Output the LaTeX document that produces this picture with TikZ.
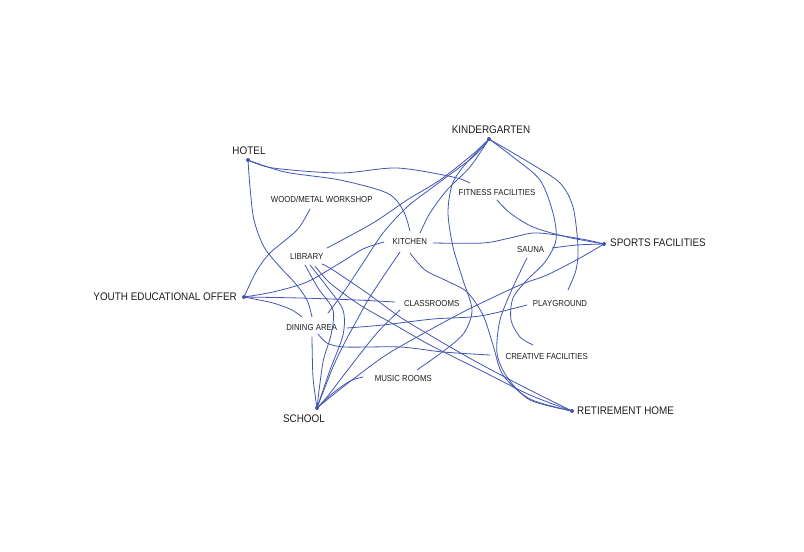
\documentclass[tikz,border=0pt]{standalone}
\usepackage{fontspec}
\newfontfamily\labfont{Liberation Sans}[FakeStretch=0.9]
\definecolor{lineblue}{HTML}{4355B3}
\definecolor{labtext}{HTML}{1E1E1E}
\tikzset{
  edge/.style={draw=lineblue, line width=0.8pt, line cap=round},
  hub/.style={font=\labfont\fontsize{11}{13}\selectfont, text=labtext, inner sep=0pt},
  item/.style={font=\labfont\fontsize{8.7}{10}\selectfont, text=labtext, inner sep=0pt},
  hubdot/.style={fill=lineblue}
}
\begin{document}
\begin{tikzpicture}[x=1pt,y=-1pt]
\useasboundingbox (0,0) rectangle (804,552);
% hub centres
\coordinate (H) at (248,160);
\coordinate (K) at (489,139);
\coordinate (S) at (604,244);
\coordinate (Y) at (244,297);
\coordinate (C) at (317,408);
\coordinate (R) at (572,411);
% hub labels
\node[hub] (hotel) at (249,150.5) {HOTEL};
\node[hub] (kinder) at (491,130) {KINDERGARTEN};
\node[hub,anchor=west] (sports) at (610,242.5) {SPORTS FACILITIES};
\node[hub,anchor=east] (youth) at (237,296.3) {YOUTH EDUCATIONAL OFFER};
\node[hub] (school) at (304,418.7) {SCHOOL};
\node[hub,anchor=west] (retire) at (577,410.8) {RETIREMENT HOME};
% item labels
\node[item] (workshop) at (321.7,199.3) {WOOD/METAL WORKSHOP};
\node[item] (library) at (306.7,256.7) {LIBRARY};
\node[item] (kitchen) at (409.8,241.7) {KITCHEN};
\node[item] (fitness) at (497,192.7) {FITNESS FACILITIES};
\node[item] (sauna) at (530.7,250) {SAUNA};
\node[item] (classrooms) at (431.7,303.3) {CLASSROOMS};
\node[item] (playground) at (560,303.3) {PLAYGROUND};
\node[item] (dining) at (311.7,327.7) {DINING AREA};
\node[item] (creative) at (546.7,356.7) {CREATIVE FACILITIES};
\node[item] (music) at (403.3,378.3) {MUSIC ROOMS};
% connector ends
\coordinate (fitA) at (470,183);
\coordinate (fitB) at (497,200);
\coordinate (kitA) at (410,231);
\coordinate (kitB) at (384,242);
\coordinate (kitC) at (420,233);
\coordinate (kitD) at (433,243);
\coordinate (kitE) at (410,253);
\coordinate (kitF) at (400,252);
\coordinate (wsA) at (310,209);
\coordinate (libA) at (327,248);
\coordinate (libB) at (305,265);
\coordinate (libC) at (310,265);
\coordinate (libD) at (315,266);
\coordinate (libE) at (322,264);
\coordinate (dinA) at (312,317);
\coordinate (dinB) at (302,317);
\coordinate (dinC) at (328,313);
\coordinate (dinD) at (312,337);
\coordinate (dinE) at (318,334);
\coordinate (dinF) at (347,328);
\coordinate (claA) at (395,302);
\coordinate (claB) at (400,310);
\coordinate (musA) at (417,370);
\coordinate (musB) at (363,377);
\coordinate (creA) at (533,345);
\coordinate (creB) at (490,355);
\coordinate (plaA) at (568,290);
\coordinate (plaB) at (527,305);
\coordinate (sauA) at (552,248);
\coordinate (sauB) at (527,258);
% hotel
\draw[edge] plot[smooth] coordinates {(H) (273,168) (340,173) (397,168) (453,177) (fitA)};
\draw[edge] plot[smooth] coordinates {(H) (285,172) (340,180) (387,193) (403,210) (kitA)};
\draw[edge] plot[smooth] coordinates {(H) (250,187) (254,220) (264,247) (280,267) (295,283) (307,300) (dinA)};
% youth
\draw[edge] plot[smooth] coordinates {(wsA) (297,230) (270,253) (256,272) (Y)};
\draw[edge] plot[smooth] coordinates {(Y) (273,292) (307,282) (340,263) (363,249) (kitB)};
\draw[edge] plot[smooth] coordinates {(Y) (300,298) (357,300) (claA)};
\draw[edge] plot[smooth] coordinates {(Y) (273,303) (292,310) (dinB)};
% kindergarten
\draw[edge] plot[smooth] coordinates {(K) (473,154) (440,180) (407,200) (373,223) (libA)};
\draw[edge] plot[smooth] coordinates {(K) (473,157) (433,187) (407,207) (383,233) (363,263) (343,293) (dinC)};
\draw[edge] plot[smooth] coordinates {(K) (470,167) (447,190) (430,213) (kitC)};
\draw[edge] plot[smooth] coordinates {(K) (463,167) (452,185) (448,213) (453,247) (463,280) (472,310) (464,333) (445,350) (musA)};
\draw[edge] plot[smooth] coordinates {(K) (513,157) (540,180) (553,213) (556,240) (545,262) (527,280) (513,298) (511,320) (520,337) (creA)};
\draw[edge] plot[smooth] coordinates {(K) (530,163) (560,183) (573,207) (578,247) (576,270) (plaA)};
% sports
\draw[edge] plot[smooth] coordinates {(fitB) (510,213) (533,227) (567,237) (S)};
\draw[edge] plot[smooth] coordinates {(kitD) (483,243) (510,238) (533,233) (557,235) (587,240) (S)};
\draw[edge] plot[smooth] coordinates {(sauA) (577,245) (S)};
\draw[edge] plot[smooth] coordinates {(S) (580,258) (547,275) (520,285) (467,310) (417,337) (383,357) (343,387) (C)};
\draw[edge] plot[smooth] coordinates {(plaB) (480,316) (433,319) (383,325) (dinF)};
% retirement home
\draw[edge] plot[smooth] coordinates {(sauB) (513,287) (500,320) (497,353) (507,377) (530,400) (R)};
\draw[edge] plot[smooth] coordinates {(kitE) (425,270) (447,281) (467,292) (483,315) (493,345) (503,375) (530,399) (R)};
\draw[edge] plot[smooth] coordinates {(libD) (330,283) (360,305) (395,325) (430,345) (480,370) (530,395) (R)};
\draw[edge] plot[smooth] coordinates {(libE) (333,270) (367,293) (400,317) (433,337) (473,360) (520,385) (R)};
% school
\draw[edge] plot[smooth] coordinates {(claB) (377,333) (350,367) (327,397) (C)};
\draw[edge] plot[smooth] coordinates {(kitF) (383,277) (368,300) (357,320) (345,342) (333,367) (C)};
\draw[edge] plot[smooth] coordinates {(libB) (318,288) (333,310) (331,335) (323,362) (C)};
\draw[edge] plot[smooth] coordinates {(libC) (328,288) (343,310) (343,335) (330,370) (C)};
\draw[edge] plot[smooth] coordinates {(C) (313,377) (dinD)};
\draw[edge] plot[smooth] coordinates {(musB) (350,381) (333,393) (C)};
\draw[edge] plot[smooth] coordinates {(dinE) (327,343) (345,347) (400,347) (443,352) (creB)};
% hub dots
\foreach \p in {H,K,S,Y,C,R} \fill[hubdot] (\p) circle (2pt);
\end{tikzpicture}
\end{document}
